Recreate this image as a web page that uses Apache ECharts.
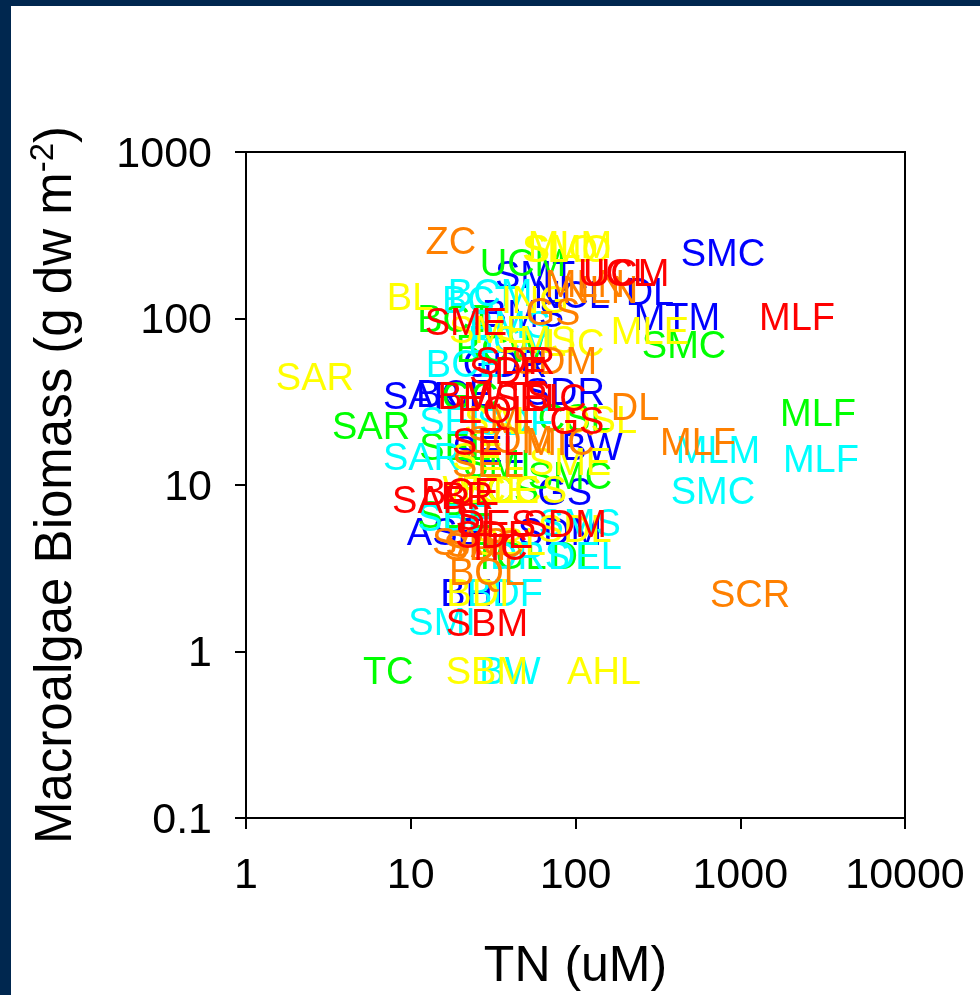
<!DOCTYPE html>
<html><head><meta charset="utf-8">
<style>html,body{margin:0;padding:0;background:#fff}#c{width:980px;height:995px}</style>
<script src="https://cdn.jsdelivr.net/npm/echarts@6/dist/echarts.min.js"></script>
</head><body><div id="c"></div>
<script>
// Each row: [site label, TN (uM), macroalgae biomass (g dw m-2)]
const blueSites = [["SMC",785,247],["MTM",413,101],["DL",283,144],["NCL",95,138],["SMT",56.8,182],["BMS",48,105],["SAR",11.7,34],["SDR",86,36],["GS",86,9],["BW",126,16.9],["ASE",16.1,5.15],["SDM",80.5,5.2],["BHI",23.5,2.24],["GDR",37.3,53],["BCE",18.6,35],["SEL",29.4,16.2]];
const greenSites = [["TC",7.3,0.753],["SAR",5.74,22.3],["MLF",2965,27],["SMC",456,69],["UCM",48,215],["BCT",18.6,98],["BCW",34.8,65],["SEL",18.6,16.9],["SMC",92.6,11.2],["GC",22.9,34],["CSL",99,25],["DL",99,3.7],["SBE",18.6,6.6],["TOL",40,3.7],["BCS",34.8,9.3],["SMI",33.4,13.2]];
const cyanSites = [["MLM",733,16.2],["MLF",3090,14.3],["SMC",683,9.1],["BCM",30.3,142],["BCT",26.3,129],["BCE",21.3,53],["BW",40,0.753],["SMI",15.5,1.5],["SAR",11.7,14.7],["SEL",18.6,24],["DEL",114,3.7],["SMS",106,5.9],["SBE",18.6,6.3],["BDF",37.3,2.24],["DRS",53,3.7],["BCM",40,74],["BMS",40,91],["SDF",43,23.6]];
const yellowSites = [["SAR",2.62,44],["BL",9.9,133],["MLM",92.6,276],["SLO",80.5,258],["SMO",90,258],["AHL",149,0.753],["SBM",29,0.753],["MLE",283,84],["LIC",99,71],["ING",56.8,129],["SME",30.3,85],["SMS",56.8,74],["BDI",25.6,2.24],["DSL",141,24.5],["SME",92.6,13.6],["SEL",29.4,14.7],["BCE",34.8,9.3],["LCS",53,9.3],["SDL",99,5.4],["SBL",40,4.5],["SAL",34.8,24],["WCE",29,9.3]];
const orangeSites = [["ZC",17.5,288],["SCR",1146,2.2],["MLF",554,18.1],["DL",230,29],["SDM",75,55],["GS",73,109],["MLN",114,159],["NLN",141,148],["BQL",29,3],["SAS",22.9,4.5],["SDI",24.5,4.2],["SEL",29.4,13.2],["MIC",80.5,18.1],["SOM",40,18.6],["LMI",34.8,24.5],["SAC",28,4.4]];
const redSites = [["MLF",2210,101],["UCM",203,187],["UCL",176,187],["SME",21.6,95],["SDR",43,55],["SDE",38.9,48],["BM",21.6,34],["WTS",40,34],["SEL",53,33],["BIC",75,33],["EQL",32.5,28],["GS",102,24],["SEL",29.4,17.9],["BCE",19.9,9],["SAR",13.3,8.1],["BR",22,8.5],["SI",24,6.4],["SDE",32,5],["SDM",86,5.75],["DES",33.4,5.75],["TIC",33.4,4.2],["SBM",29,1.48]];
const xTicks = [1,10,100,1000,10000];
const yTicks = [0.1,1,10,100,1000];
const xTitle = "TN (uM)";

const siteSeries = (rows, color) => ({
  type:'scatter', symbolSize:1, itemStyle:{color:'rgba(0,0,0,0)',opacity:1}, silent:true, animation:false,
  data: rows.map(r => ({value:[r[1],r[2]], name:r[0]})),
  label:{show:true, position:'inside', offset:[0,2], formatter:p=>p.name, color:color, fontSize:38, fontFamily:'Liberation Sans', align:'center', verticalAlign:'middle'}
});
const tickFmt = v => String(+(+v).toPrecision(3));
const axisBase = {
  type:'log', logBase:10, nameLocation:'middle', splitLine:{show:false}, minorTick:{show:false},
  axisLine:{show:true,onZero:false,lineStyle:{color:'#000',width:2}},
  axisTick:{show:true,inside:false,length:11,lineStyle:{color:'#000',width:2}},
  axisLabel:{color:'#000',fontSize:43,fontFamily:'Liberation Sans',formatter:tickFmt,hideOverlap:false,showMinLabel:true,showMaxLabel:true}
};
const chart = echarts.init(document.getElementById('c'),null,{renderer:'canvas',width:980,height:995});
chart.setOption({
  animation:false, backgroundColor:'#fff',
  graphic:[
    {type:'rect',silent:true,shape:{x:0,y:0,width:980,height:6},style:{fill:'#00274f'}},
    {type:'rect',silent:true,shape:{x:0,y:0,width:11,height:995},style:{fill:'#00274f'}}
  ],
  grid:{left:246,top:152,width:659,height:666,outerBoundsMode:'none',show:true,borderColor:'#000',borderWidth:2,backgroundColor:'transparent'},
  xAxis:Object.assign({},axisBase,{min:xTicks[0],max:xTicks[4],name:xTitle,nameGap:124,
    nameTextStyle:{color:'#000',fontSize:50,fontFamily:'Liberation Sans'},axisLabel:Object.assign({},axisBase.axisLabel,{margin:37})}),
  yAxis:Object.assign({},axisBase,{min:yTicks[0],max:yTicks[4],
    name:'{a|Macroalgae Biomass (g dw m}{b|-2}{a|)}',nameGap:160,
    nameTextStyle:{color:'#000',rich:{a:{fontSize:51,fontFamily:'Liberation Sans',color:'#000'},b:{fontSize:33,fontFamily:'Liberation Sans',color:'#000',verticalAlign:'top',padding:[0,0,26,0]}}},
    axisLabel:Object.assign({},axisBase.axisLabel,{margin:34,formatter:v=>'{t|'+tickFmt(v)+'}',rich:{t:{fontSize:43,fontFamily:'Liberation Sans',color:'#000',padding:[6,0,0,0]}}})}),
  series:[siteSeries(blueSites,'#0000ff'),siteSeries(greenSites,'#00ff00'),siteSeries(cyanSites,'#00ffff'),siteSeries(yellowSites,'#ffff00'),siteSeries(orangeSites,'#ff8000'),siteSeries(redSites,'#ff0000')]
});
</script></body></html>
